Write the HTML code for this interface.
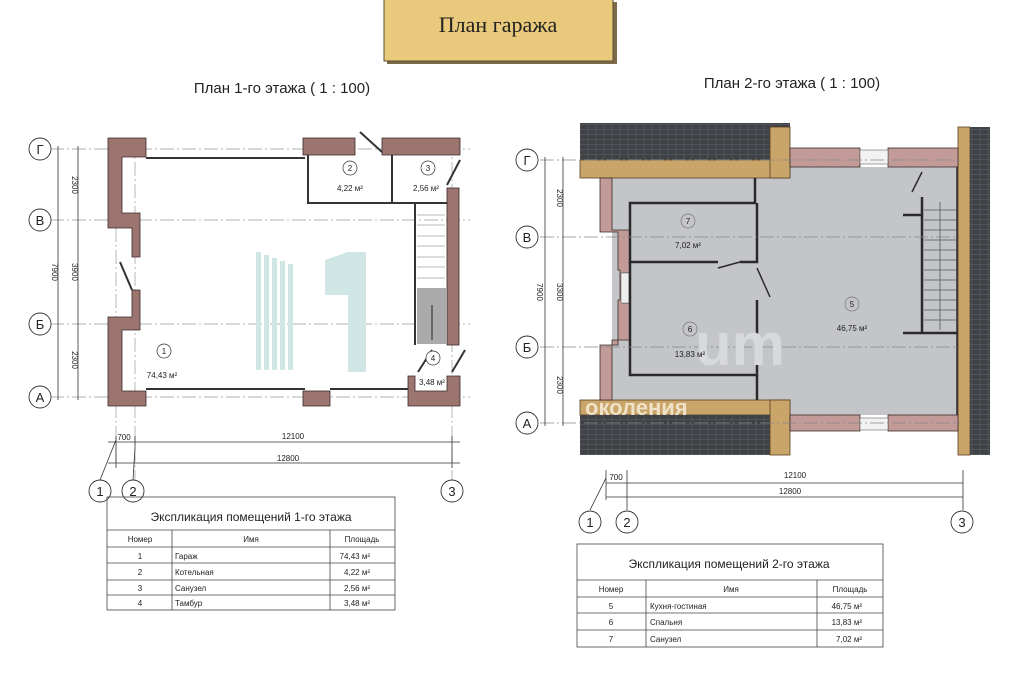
<!DOCTYPE html>
<html><head><meta charset="utf-8"><style>
html,body{margin:0;padding:0;background:#fff;width:1024px;height:683px;overflow:hidden}
svg{display:block}
text{font-family:"Liberation Sans","DejaVu Sans",sans-serif;fill:#222}
</style></head><body>
<svg width="1024" height="683" viewBox="0 0 1024 683" xmlns="http://www.w3.org/2000/svg">
<defs>
<pattern id="brick" width="8" height="5" patternUnits="userSpaceOnUse"><rect width="8" height="5" fill="#3e4145"/><path d="M0 4.5H8M4 0V4.5" stroke="#56595d" stroke-width="0.8"/></pattern>
</defs>
<!-- Title box -->
<rect x="387" y="2" width="230" height="62" fill="#7a6a48"/>
<rect x="384" y="-2" width="229" height="63" fill="#e9c97b" stroke="#5a4d30" stroke-width="1"/>
<text x="498" y="32" text-anchor="middle" font-family="Liberation Serif,serif" font-size="22" style="font-family:'Liberation Serif',serif">План гаража</text>
<text x="282" y="93" text-anchor="middle" font-size="15" transform="scale(1,1)">План 1-го этажа ( 1 : 100)</text>
<text x="792" y="88" text-anchor="middle" font-size="15">План 2-го этажа ( 1 : 100)</text>

<!-- ============ LEFT PLAN ============ -->
<g stroke="#999" stroke-width="0.7" stroke-dasharray="14,3,2,3" fill="none">
<line x1="50" y1="149" x2="470" y2="149"/><line x1="50" y1="220" x2="470" y2="220"/>
<line x1="50" y1="324" x2="470" y2="324"/><line x1="50" y1="397" x2="470" y2="397"/>
<line x1="116" y1="140" x2="116" y2="470"/><line x1="135" y1="140" x2="135" y2="480"/><line x1="452" y1="140" x2="452" y2="480"/>
</g>
<g stroke="#333" stroke-width="0.8" fill="none">
<line x1="58" y1="146" x2="58" y2="400"/><line x1="78" y1="146" x2="78" y2="400"/>
<line x1="108" y1="442" x2="460" y2="442"/><line x1="108" y1="463" x2="460" y2="463"/>
<line x1="116" y1="436" x2="116" y2="468"/><line x1="135" y1="436" x2="135" y2="448"/><line x1="452" y1="436" x2="452" y2="468"/>
<line x1="116" y1="440" x2="100" y2="480"/><line x1="135" y1="448" x2="133" y2="480"/>
</g>
<g font-size="8" fill="#333">
<text transform="translate(72,185) rotate(90)" text-anchor="middle">2300</text>
<text transform="translate(72,272) rotate(90)" text-anchor="middle">3900</text>
<text transform="translate(72,360) rotate(90)" text-anchor="middle">2300</text>
<text transform="translate(52,272) rotate(90)" text-anchor="middle">7900</text>
<text x="124" y="440" text-anchor="middle">700</text>
<text x="293" y="439" text-anchor="middle">12100</text>
<text x="288" y="461" text-anchor="middle">12800</text>
</g>
<g fill="#fff" stroke="#333" stroke-width="0.9">
<circle cx="40" cy="149" r="11"/><circle cx="40" cy="220" r="11"/><circle cx="40" cy="324" r="11"/><circle cx="40" cy="397" r="11"/>
<circle cx="100" cy="491" r="11"/><circle cx="133" cy="491" r="11"/><circle cx="452" cy="491" r="11"/>
</g>
<g font-size="13" text-anchor="middle">
<text x="40" y="154">Г</text><text x="40" y="225">В</text><text x="40" y="329">Б</text><text x="40" y="402">А</text>
<text x="100" y="496">1</text><text x="133" y="496">2</text><text x="452" y="496">3</text>
</g>
<!-- watermark -->
<g fill="#cfe6e4"><rect x="256" y="252" width="5" height="118"/><rect x="264" y="255" width="5" height="115"/><rect x="272" y="258" width="5" height="112"/><rect x="280" y="261" width="5" height="109"/><rect x="288" y="264" width="5" height="106"/>
<path d="M325 260 L348 252 L366 252 L366 372 L348 372 L348 295 L325 295Z"/></g>
<!-- walls -->
<g fill="#9c7470" stroke="#3a2a28" stroke-width="0.8">
<path d="M108 138 H146 V157 H122 V213 H140 V257 H132 V228 H108Z"/>
<path d="M132 290 H140 V330 H122 V391 H146 V406 H108 V317 H132Z"/>
<rect x="303" y="138" width="52" height="17"/>
<path d="M382 138 H460 V155 H382Z"/>
<rect x="447" y="188" width="12" height="157"/>
<rect x="303" y="391" width="27" height="15"/>
<path d="M408 376 H415 V391 H447 V376 H460 V406 H408Z"/>
</g>
<g stroke="#333" stroke-width="2" fill="none">
<line x1="146" y1="158" x2="305" y2="158"/><line x1="146" y1="389" x2="305" y2="389"/><line x1="330" y1="389" x2="408" y2="389"/>
<path d="M308 155 V203 H447"/><line x1="392" y1="155" x2="392" y2="203"/>
<line x1="415" y1="203" x2="415" y2="345"/>
<line x1="360" y1="132" x2="382" y2="152"/><line x1="447" y1="185" x2="460" y2="160"/>
<line x1="120" y1="262" x2="132" y2="290"/><line x1="418" y1="372" x2="432" y2="350"/><line x1="452" y1="372" x2="465" y2="350"/>
</g>
<g stroke="#bbb" stroke-width="1"><line x1="417" y1="215" x2="445" y2="215"/><line x1="417" y1="225" x2="445" y2="225"/><line x1="417" y1="236" x2="445" y2="236"/><line x1="417" y1="246" x2="445" y2="246"/><line x1="417" y1="257" x2="445" y2="257"/><line x1="417" y1="267" x2="445" y2="267"/><line x1="417" y1="278" x2="445" y2="278"/></g>
<rect x="417" y="288" width="30" height="56" fill="#aaa"/>
<line x1="432" y1="340" x2="432" y2="305" stroke="#222" stroke-width="1"/>
<g fill="#fff" stroke="#333" stroke-width="0.7"><circle cx="350" cy="168" r="7"/><circle cx="428" cy="168" r="7"/><circle cx="164" cy="351" r="7"/><circle cx="433" cy="358" r="7"/></g>
<g font-size="8" text-anchor="middle"><text x="350" y="171">2</text><text x="428" y="171">3</text><text x="164" y="354">1</text><text x="433" y="361">4</text>
<text x="350" y="191">4,22 м²</text><text x="426" y="191">2,56 м²</text><text x="162" y="378">74,43 м²</text><text x="432" y="385">3,48 м²</text></g>
<!-- Table 1 -->
<g stroke="#444" stroke-width="0.8" fill="none">
<rect x="107" y="497" width="288" height="113"/>
<line x1="107" y1="530" x2="395" y2="530"/><line x1="107" y1="547" x2="395" y2="547"/><line x1="107" y1="563" x2="395" y2="563"/><line x1="107" y1="580" x2="395" y2="580"/><line x1="107" y1="595" x2="395" y2="595"/>
<line x1="172" y1="530" x2="172" y2="610"/><line x1="330" y1="530" x2="330" y2="610"/>
</g>
<text x="251" y="521" text-anchor="middle" font-size="12">Экспликация помещений 1-го этажа</text>
<g font-size="8"><text x="140" y="542" text-anchor="middle">Номер</text><text x="251" y="542" text-anchor="middle">Имя</text><text x="362" y="542" text-anchor="middle">Площадь</text>
<text x="140" y="559" text-anchor="middle">1</text><text x="175" y="559">Гараж</text><text x="370" y="559" text-anchor="end">74,43 м²</text>
<text x="140" y="575" text-anchor="middle">2</text><text x="175" y="575">Котельная</text><text x="370" y="575" text-anchor="end">4,22 м²</text>
<text x="140" y="591" text-anchor="middle">3</text><text x="175" y="591">Санузел</text><text x="370" y="591" text-anchor="end">2,56 м²</text>
<text x="140" y="606" text-anchor="middle">4</text><text x="175" y="606">Тамбур</text><text x="370" y="606" text-anchor="end">3,48 м²</text></g>

<!-- ============ RIGHT PLAN ============ -->
<rect x="612" y="167" width="346" height="248" fill="#c3c5c8"/>
<rect x="580" y="123" width="210" height="37" fill="url(#brick)"/>
<rect x="580" y="160" width="210" height="18" fill="#c9a56a" stroke="#5a4020" stroke-width="0.8"/>
<rect x="770" y="127" width="20" height="51" fill="#c9a56a" stroke="#5a4020" stroke-width="0.8"/>
<rect x="580" y="400" width="210" height="15" fill="#c9a56a" stroke="#5a4020" stroke-width="0.8"/>
<rect x="580" y="415" width="210" height="40" fill="url(#brick)"/>
<rect x="770" y="400" width="20" height="55" fill="#c9a56a" stroke="#5a4020" stroke-width="0.8"/>
<rect x="958" y="127" width="12" height="328" fill="#c9a56a" stroke="#5a4020" stroke-width="0.8"/>
<rect x="970" y="127" width="20" height="328" fill="url(#brick)"/>
<g fill="#c29b98" stroke="#3a2a28" stroke-width="0.8">
<rect x="790" y="148" width="70" height="19"/><rect x="888" y="148" width="70" height="19"/>
<rect x="790" y="415" width="70" height="16"/><rect x="888" y="415" width="70" height="16"/>
<path d="M600 178 H612 V230 H630 V273 H622 V303 H630 V340 H612 V400 H600 V345 H618 V300 H620 V270 H618 V232 H600Z"/>
</g>
<rect x="860" y="150" width="28" height="14" fill="#f2f2f2" stroke="#666" stroke-width="0.6"/>
<rect x="860" y="418" width="28" height="12" fill="#f2f2f2" stroke="#666" stroke-width="0.6"/>
<rect x="621" y="273" width="8" height="30" fill="#eee" stroke="#666" stroke-width="0.6"/>
<g stroke="#2a2a2a" stroke-width="2.5" fill="none">
<path d="M755 178 V203 H630 V262 H718"/><path d="M740 262 H757 V203"/>
<path d="M630 262 V375 H757 V300"/><line x1="757" y1="375" x2="757" y2="400"/>
<line x1="718" y1="268" x2="740" y2="262" stroke-width="1.5"/><line x1="757" y1="268" x2="770" y2="297" stroke-width="1.5"/>
<line x1="922" y1="197" x2="922" y2="333"/><line x1="903" y1="333" x2="957" y2="333"/><line x1="903" y1="215" x2="922" y2="215"/>
<line x1="922" y1="172" x2="912" y2="192" stroke-width="1.5"/>
<line x1="957" y1="167" x2="957" y2="415" stroke-width="1.5"/>
</g>
<g stroke="#555" stroke-width="0.8"><line x1="924" y1="210" x2="956" y2="210"/><line x1="924" y1="220" x2="956" y2="220"/><line x1="924" y1="230" x2="956" y2="230"/><line x1="924" y1="240" x2="956" y2="240"/><line x1="924" y1="250" x2="956" y2="250"/><line x1="924" y1="260" x2="956" y2="260"/><line x1="924" y1="270" x2="956" y2="270"/><line x1="924" y1="280" x2="956" y2="280"/><line x1="924" y1="290" x2="956" y2="290"/><line x1="924" y1="300" x2="956" y2="300"/><line x1="924" y1="310" x2="956" y2="310"/><line x1="924" y1="320" x2="956" y2="320"/><line x1="940" y1="330" x2="940" y2="202"/></g>
<g stroke="#888" stroke-width="0.7" stroke-dasharray="14,3,2,3"><line x1="540" y1="160" x2="960" y2="160"/><line x1="540" y1="237" x2="960" y2="237"/><line x1="540" y1="347" x2="960" y2="347"/><line x1="540" y1="423" x2="960" y2="423"/></g>
<text x="695" y="365" font-size="60" font-weight="bold" fill="#dadbdd" style="fill:#d8d9db">um</text>
<text x="585" y="415" font-size="22" font-weight="bold" style="fill:#efe2c8">околения</text>
<g fill="none" stroke="#777" stroke-width="0.7"><circle cx="688" cy="221" r="7"/><circle cx="690" cy="329" r="7"/><circle cx="852" cy="304" r="7"/></g>
<g font-size="8" text-anchor="middle"><text x="688" y="224">7</text><text x="690" y="332">6</text><text x="852" y="307">5</text>
<text x="688" y="248">7,02 м²</text><text x="690" y="357">13,83 м²</text><text x="852" y="331">46,75 м²</text></g>
<g stroke="#333" stroke-width="0.8" fill="none">
<line x1="545" y1="157" x2="545" y2="426"/><line x1="563" y1="157" x2="563" y2="426"/>
<line x1="606" y1="483" x2="963" y2="483"/><line x1="606" y1="497" x2="963" y2="497"/>
<line x1="606" y1="470" x2="606" y2="500"/><line x1="627" y1="470" x2="627" y2="510"/><line x1="963" y1="470" x2="963" y2="510"/>
<line x1="606" y1="478" x2="590" y2="510"/>
</g>
<g font-size="8" fill="#333">
<text transform="translate(557,198) rotate(90)" text-anchor="middle">2300</text>
<text transform="translate(557,292) rotate(90)" text-anchor="middle">3300</text>
<text transform="translate(557,385) rotate(90)" text-anchor="middle">2300</text>
<text transform="translate(537,292) rotate(90)" text-anchor="middle">7900</text>
<text x="616" y="480" text-anchor="middle">700</text>
<text x="795" y="478" text-anchor="middle">12100</text>
<text x="790" y="494" text-anchor="middle">12800</text>
</g>
<g fill="#fff" stroke="#333" stroke-width="0.9">
<circle cx="527" cy="160" r="11"/><circle cx="527" cy="237" r="11"/><circle cx="527" cy="347" r="11"/><circle cx="527" cy="423" r="11"/>
<circle cx="590" cy="522" r="11"/><circle cx="627" cy="522" r="11"/><circle cx="962" cy="522" r="11"/>
</g>
<g font-size="13" text-anchor="middle">
<text x="527" y="165">Г</text><text x="527" y="242">В</text><text x="527" y="352">Б</text><text x="527" y="428">А</text>
<text x="590" y="527">1</text><text x="627" y="527">2</text><text x="962" y="527">3</text>
</g>
<!-- Table 2 -->
<g stroke="#444" stroke-width="0.8" fill="none">
<rect x="577" y="544" width="306" height="103"/>
<line x1="577" y1="580" x2="883" y2="580"/><line x1="577" y1="597" x2="883" y2="597"/><line x1="577" y1="613" x2="883" y2="613"/><line x1="577" y1="630" x2="883" y2="630"/>
<line x1="646" y1="580" x2="646" y2="647"/><line x1="817" y1="580" x2="817" y2="647"/>
</g>
<text x="729" y="568" text-anchor="middle" font-size="12">Экспликация помещений 2-го этажа</text>
<g font-size="8"><text x="611" y="592" text-anchor="middle">Номер</text><text x="731" y="592" text-anchor="middle">Имя</text><text x="850" y="592" text-anchor="middle">Площадь</text>
<text x="611" y="609" text-anchor="middle">5</text><text x="650" y="609">Кухня-гостиная</text><text x="862" y="609" text-anchor="end">46,75 м²</text>
<text x="611" y="625" text-anchor="middle">6</text><text x="650" y="625">Спальня</text><text x="862" y="625" text-anchor="end">13,83 м²</text>
<text x="611" y="642" text-anchor="middle">7</text><text x="650" y="642">Санузел</text><text x="862" y="642" text-anchor="end">7,02 м²</text></g>
</svg>
</body></html>
